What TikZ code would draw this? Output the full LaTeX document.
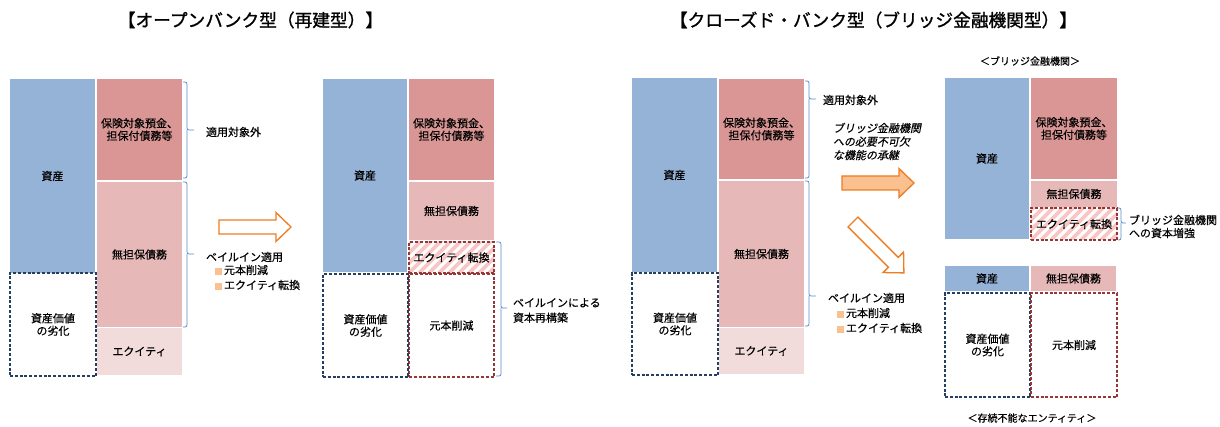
\documentclass[tikz,border=0pt]{standalone}
\usepackage{fontspec}
\setmainfont{Noto Sans CJK JP}[FakeBold=0.4]
\newfontfamily\jpit[FakeSlant=0.2,FakeBold=0.4]{Noto Sans CJK JP}
\newfontfamily\jptitle[FakeBold=1.2]{Noto Sans CJK JP}
\definecolor{blueA}{HTML}{95B3D7}
\definecolor{redA}{HTML}{D99694}
\definecolor{redB}{HTML}{E6B9B8}
\definecolor{redC}{HTML}{F2DCDB}
\definecolor{hatchpink}{HTML}{F7C6C5}
\definecolor{navy}{HTML}{243F60}
\definecolor{darkred}{HTML}{953735}
\definecolor{braceblue}{HTML}{5B8BC9}
\definecolor{orangeL}{HTML}{EE7D22}
\definecolor{orangeF}{HTML}{FAC090}
\tikzset{
  blk/.style={inner sep=0pt, outer sep=0pt, align=center, font=\fontsize{11}{12.5}\selectfont},
  assetbox/.style={blk, fill=blueA},
  securedbox/.style={blk, fill=redA},
  unsecbox/.style={blk, fill=redB},
  equitybox/.style={blk, fill=redC},
  dashbox/.style={blk, line width=1.2pt, dash pattern=on 3pt off 1.8pt},
  lossbox/.style={dashbox, draw=navy},
  cutbox/.style={dashbox, draw=darkred},
  hatchbox/.style={dashbox, draw=darkred, path picture={
      \foreach \i in {-60,-50,...,120}
        \draw[hatchpink, solid, line width=3.6pt] ([xshift=\i pt]path picture bounding box.south west) -- ++(50,-50);}},
  lbl/.style={inner sep=0pt, outer sep=0pt, align=left, font=\fontsize{11}{13}\selectfont},
  capt/.style={inner sep=0pt, font=\fontsize{10}{12}\selectfont},
  titletext/.style={inner sep=0pt, font=\fontsize{17.7}{20}\selectfont\jptitle},
  bracestyle/.style={draw=braceblue, line width=0.8pt, rounded corners=2pt},
  hollowarrow/.style={draw=orangeL, line width=1.3pt, fill=white},
  filledarrow/.style={draw=orangeL, line width=1.3pt, fill=orangeF},
  blockarrow/.pic={\path[pic actions] (0,-7) -- (57,-7) -- (57,-14.5) -- (72,0) -- (57,14.5) -- (57,7) -- (0,7) -- cycle;}
}
\newcommand\bankbox[7]{%
  \pgfmathsetmacro\bbw{#4-#2}\pgfmathsetmacro\bbh{#5-#3}%
  \pgfmathsetmacro\bbcx{(#2+#4)/2}\pgfmathsetmacro\bbcy{(#3+#5)/2}%
  \node[#6, minimum width=\bbw pt, minimum height=\bbh pt] (#1) at (\bbcx,\bbcy) {#7};}
\newcommand\sidebrace[6]{% x0, xv, top, tip, bottom, tick
  \draw[bracestyle] (#1,#3) -| (#2,#4) -- ++(#6,0);
  \draw[bracestyle] (#2,#4) |- (#1,#5);}
\newcommand\bul{\textcolor{orangeF}{\rule[-0.5pt]{7pt}{7pt}}\hspace{2pt}}
\begin{document}
\begin{tikzpicture}[x=1pt, y=-1pt]
\useasboundingbox (0,0) rectangle (1220,427);
% titles
\node[titletext] (t1) at (250.5,20) {【オープンバンク型（再建型）】};
\node[titletext] (t2) at (873.5,20) {【クローズド・バンク型（ブリッジ金融機関型）】};
% ---- left diagram
\bankbox{La}{10}{79}{95}{273}{assetbox}{資産}
\bankbox{Lb}{97}{79}{182}{180}{securedbox}{保険対象預金、\\担保付債務等}
\bankbox{Lc}{97}{182}{182}{327}{unsecbox}{無担保債務}
\bankbox{Ld}{97}{328}{182}{375}{equitybox}{エクイティ}
\bankbox{Le}{10}{273}{96}{376}{lossbox}{資産価値\\の劣化}
\sidebrace{183}{187}{82}{130}{178}{7}
\sidebrace{183}{187}{182}{254}{327}{7}
\node[lbl, anchor=west] (Lx) at (206,132) {適用対象外};
\node[lbl, anchor=west] (Lbi) at (206,257) {ベイルイン適用};
\node[lbl, anchor=west] (Lb1) at (215,270) {\bul 元本削減};
\node[lbl, anchor=west] (Lb2) at (215,285) {\bul エクイティ転換};
\pic[hollowarrow] at (219,227) {blockarrow};
% ---- middle diagram
\bankbox{Ma}{323}{79}{407}{272}{assetbox}{資産}
\bankbox{Mb}{409}{79}{494}{180}{securedbox}{保険対象預金、\\担保付債務等}
\bankbox{Mc}{409}{182}{494}{240}{unsecbox}{無担保債務}
\bankbox{Md}{409}{242}{494}{273}{hatchbox}{エクイティ転換}
\bankbox{Me}{409}{274}{494}{377}{cutbox}{元本削減}
\bankbox{Mf}{323}{274}{408}{377}{lossbox}{資産価値\\の劣化}
\sidebrace{496}{501}{242}{308}{376}{6}
\node[lbl, anchor=west, font=\fontsize{11}{15}\selectfont] (Ml) at (513,310.5) {ベイルインによる\\資本再構築};
% ---- right diagram
\bankbox{Ra}{632}{78}{717}{272}{assetbox}{資産}
\bankbox{Rb}{719}{79}{804}{179}{securedbox}{保険対象預金、\\担保付債務等}
\bankbox{Rc}{719}{181}{804}{327}{unsecbox}{無担保債務}
\bankbox{Rd}{719}{328}{804}{374}{equitybox}{エクイティ}
\bankbox{Re}{632}{273}{718}{375}{lossbox}{資産価値\\の劣化}
\sidebrace{805}{809}{81}{99}{178}{7}
\sidebrace{805}{809}{181}{296}{326}{7}
\node[lbl, anchor=west] (Rx) at (823,100) {適用対象外};
\node[lbl, anchor=west, font=\fontsize{11}{13.5}\selectfont\jpit] (Rit) at (833,141.5) {ブリッジ金融機関\\への必要不可欠\\な機能の承継};
\pic[filledarrow] at (842,183) {blockarrow};
\pic[hollowarrow, rotate=-45] at (853,222) {blockarrow};
\node[lbl, anchor=west] (Rbi) at (828,298) {ベイルイン適用};
\node[lbl, anchor=west] (Rb1) at (837,313) {\bul 元本削減};
\node[lbl, anchor=west] (Rb2) at (837,328) {\bul エクイティ転換};
% ---- bridge institution
\node[capt] (Bt) at (1030,61) {＜ブリッジ金融機関＞};
\bankbox{Ba}{945}{78}{1029}{239}{assetbox}{資産}
\bankbox{Bb}{1031}{78}{1117}{179}{securedbox}{保険対象預金、\\担保付債務等}
\bankbox{Bc}{1031}{181}{1117}{207}{unsecbox}{無担保債務}
\bankbox{Bd}{1031}{208}{1117}{240}{hatchbox}{エクイティ転換}
\sidebrace{1118}{1121}{208}{223}{240}{5}
\node[lbl, anchor=west] (Bl) at (1129,226.5) {ブリッジ金融機関\\への資本増強};
% ---- non-viable entity
\bankbox{Sa}{945}{266}{1029}{291}{assetbox}{資産}
\bankbox{Sb}{1031}{266}{1116}{291}{unsecbox}{無担保債務}
\bankbox{Sc}{945}{293}{1030}{397}{lossbox}{資産価値\\の劣化}
\bankbox{Sd}{1031}{293}{1117}{397}{cutbox}{元本削減}
\node[capt] (St) at (1032,418) {＜存続不能なエンティティ＞};
\end{tikzpicture}
\end{document}
